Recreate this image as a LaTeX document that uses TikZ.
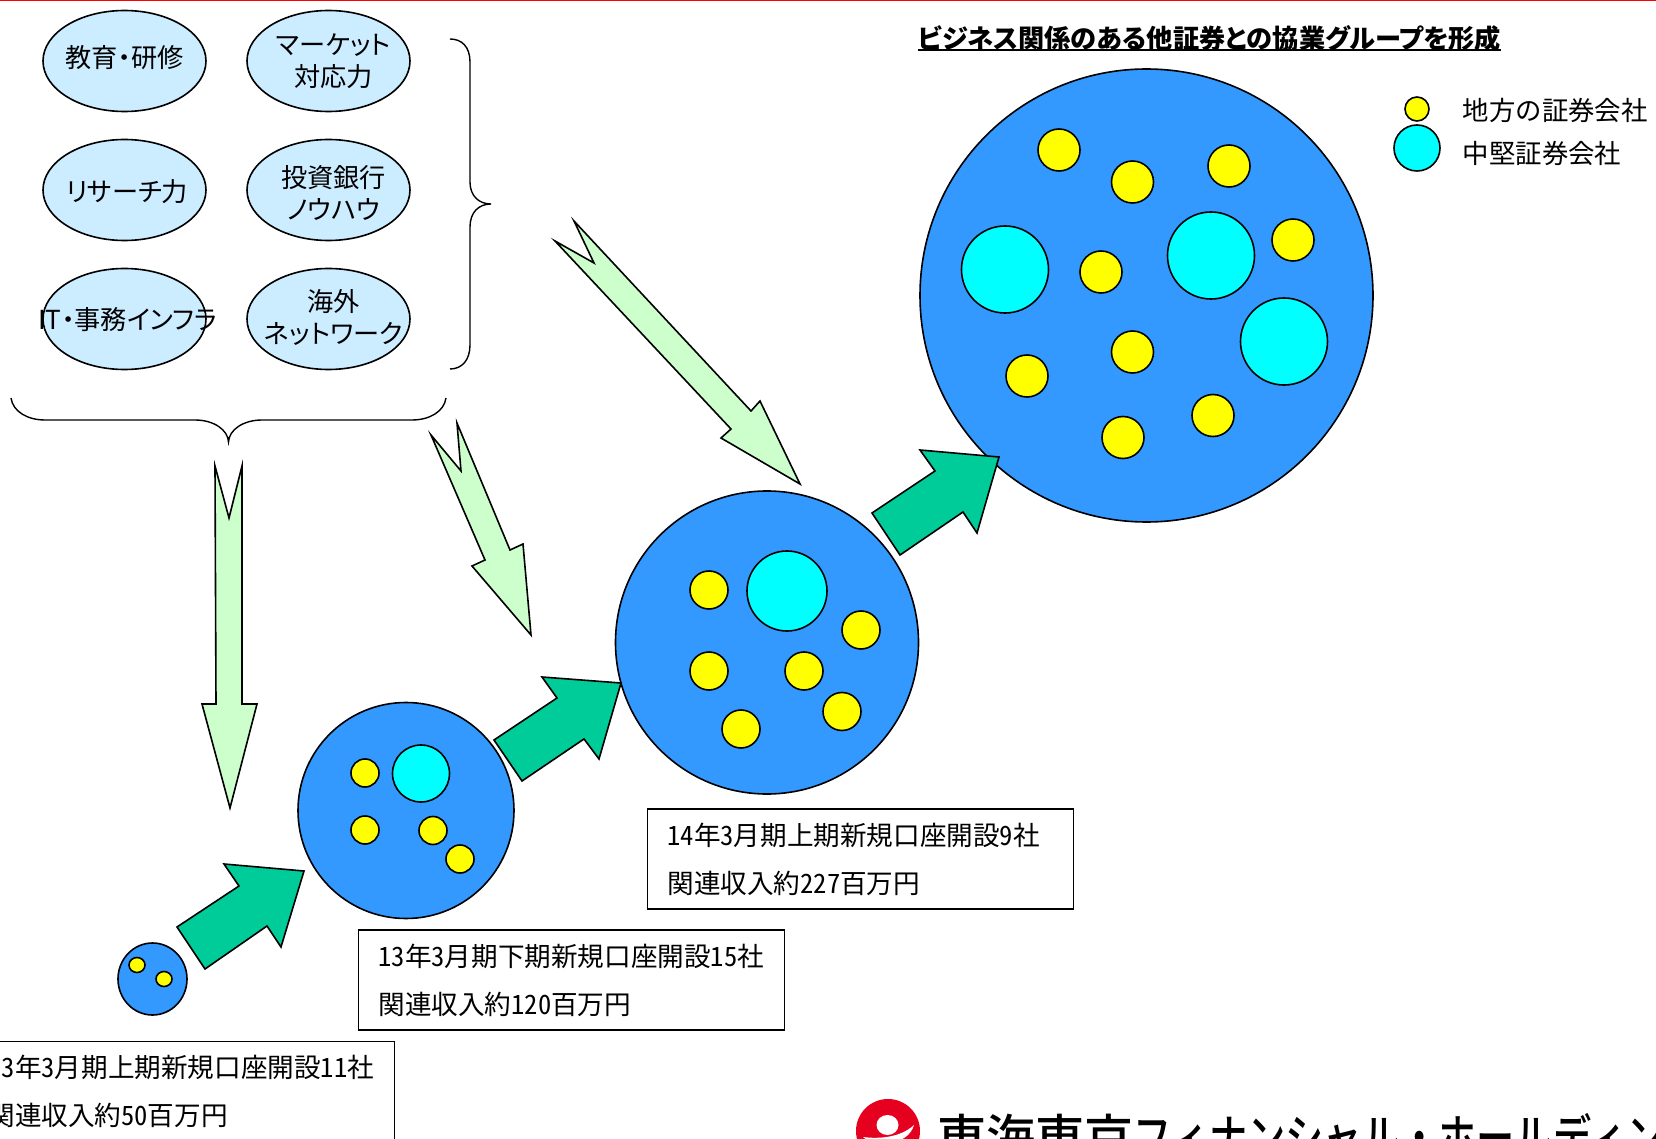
\documentclass[tikz,border=0pt]{standalone}
\usepackage{fontspec}
\usepackage{xcolor}
\usepackage{tikz}
\usetikzlibrary{matrix}
\usetikzlibrary{shapes.geometric}
\setmainfont[RawFeature=+palt]{Noto Sans CJK JP}
\newfontfamily\boxfont[RawFeature=+hwid]{Noto Sans CJK JP}
\newfontfamily\corpfont{Noto Sans CJK JP Medium}
\newfontfamily\corpkana[FakeStretch=0.78]{Noto Sans CJK JP Medium}
\definecolor{seablue}{HTML}{3399FF}
\definecolor{skillblue}{HTML}{CCECFF}
\definecolor{palegreen}{HTML}{CCFFCC}
\definecolor{growgreen}{HTML}{00CC99}
\definecolor{logored}{HTML}{E60020}
\definecolor{dotyellow}{HTML}{FFFF00}
\definecolor{dotcyan}{HTML}{00FFFF}
\newcommand{\skillname}[3]{\makebox[0pt]{\kern#1\kern#1\raisebox{\dimexpr-#2-3.25pt}[0pt][0pt]{\begin{tabular}{@{}c@{}}#3\end{tabular}}}}
\tikzset{
  skill/.style={ellipse,draw,line width=0.8pt,fill=skillblue,minimum width=81.5pt,minimum height=50.5pt,inner sep=0pt,font=\fontsize{13.1}{16}\selectfont},
  group/.style={circle,draw,line width=0.8pt,fill=seablue,inner sep=0pt},
  local/.style={circle,draw,line width=0.8pt,fill=dotyellow,inner sep=0pt},
  mid/.style={circle,draw,line width=0.8pt,fill=dotcyan,inner sep=0pt},
  infobox/.style={rectangle,draw,line width=0.9pt,inner xsep=10pt,inner ysep=0pt,text width=193pt,minimum height=50pt,align=left,font=\boxfont\fontsize{13.3}{24}\selectfont},
  legendtext/.style={anchor=west,inner sep=0pt,font=\boxfont\fontsize{13.2}{16}\selectfont},
  inflow/.style={draw,line width=0.8pt,fill=palegreen,miter limit=20},
  growth/.style={draw,line width=0.8pt,fill=growgreen},
  curly/.style={draw,line width=0.7pt}
}

\begin{document}
\begin{tikzpicture}[x=0.5pt,y=-0.5pt]
  \path[use as bounding box,clip] (0,0) rectangle (1656,1139);
  \fill[red] (0,0) rectangle (1656,1.4);

  \matrix (m) at (226.5,190) [matrix of nodes,nodes={skill},row sep=13.2pt,column sep=19.7pt,inner sep=0pt]
  {
     \skillname{0pt}{0pt}{教育・研修} & \skillname{2.6pt}{1.3pt}{マーケット\\対応力} \\
     \skillname{1.3pt}{2.1pt}{リサーチ力} & \skillname{2.6pt}{3.2pt}{投資銀行\\ノウハウ} \\
     \skillname{1.6pt}{1.6pt}{IT・事務インフラ} & \skillname{2.6pt}{1pt}{海外\\ネットワーク} \\};

  \path[curly] (450,39) .. controls (462,39) and (470,47) .. (470,62) -- (470,182)
    .. controls (470,196) and (479,204) .. (491,204) .. controls (479,204) and (470,212) .. (470,227)
    -- (470,345) .. controls (470,360) and (462,369) .. (450,369);
  \path[curly] (11,398) .. controls (13,412) and (28,420) .. (45,420) -- (195,420)
    .. controls (214,420) and (228,430) .. (228.5,442) .. controls (229,430) and (243,420) .. (262,420)
    -- (412,420) .. controls (429,420) and (444,412) .. (446,398);

  \node[group,minimum size=226.5pt] (big) at (1146.5,295.5) {};
  \node[local,minimum size=21pt] (b1) at (1059,150) {};
  \node[local,minimum size=21pt] (b2) at (1132.5,182) {};
  \node[local,minimum size=21pt] (b3) at (1229,166) {};
  \node[local,minimum size=21pt] (b4) at (1293,240) {};
  \node[local,minimum size=21pt] (b5) at (1101,272) {};
  \node[local,minimum size=21pt] (b6) at (1132.5,352) {};
  \node[local,minimum size=21pt] (b7) at (1027,376) {};
  \node[local,minimum size=21pt] (b8) at (1123,437.5) {};
  \node[local,minimum size=21pt] (b9) at (1213,415.5) {};
  \node[mid,minimum size=43.5pt] (c1) at (1005,269.5) {};
  \node[mid,minimum size=43.5pt] (c2) at (1211,255.5) {};
  \node[mid,minimum size=43.5pt] (c3) at (1284,341.5) {};

  \node[group,minimum size=151.5pt] (medium) at (767,642.5) {};
  \node[local,minimum size=19pt] (e1) at (709,590) {};
  \node[local,minimum size=19pt] (e2) at (861,630) {};
  \node[local,minimum size=19pt] (e3) at (709,671) {};
  \node[local,minimum size=19pt] (e4) at (804,671) {};
  \node[local,minimum size=19pt] (e5) at (842,711.5) {};
  \node[local,minimum size=19pt] (e6) at (741,729) {};
  \node[mid,minimum size=40pt] (c4) at (787,591) {};

  \node[group,minimum size=108pt] (small) at (406,810.5) {};
  \node[local,minimum size=14pt] (s1) at (365,773) {};
  \node[local,minimum size=14pt] (s2) at (365,830) {};
  \node[local,minimum size=14pt] (s3) at (433,830.5) {};
  \node[local,minimum size=14pt] (s4) at (460,859) {};
  \node[mid,minimum size=28.5pt] (c5) at (421,773.5) {};

  \node[group,minimum width=34.5pt,minimum height=36pt,ellipse] (tiny) at (152.5,979) {};
  \node[local,minimum width=8pt,minimum height=7.5pt,ellipse] (t1) at (137,965) {};
  \node[local,minimum width=8pt,minimum height=7.5pt,ellipse] (t2) at (164,979) {};

  \path[inflow] (215,466) -- (229,518) -- (242,466) -- (242,704) -- (257,704) -- (230,808) -- (202,704) -- (216,704) -- cycle;
  \path[inflow] (457,423) -- (510,550) -- (523,544) -- (531,635) -- (472,566) -- (485,560) -- (431,435) -- (461,471) -- cycle;
  \path[inflow] (574,221) -- (751,411) -- (760,401) -- (800,484) -- (721,438) -- (731,429) -- (555,241) -- (594,263) -- cycle;

  \path[growth] (177,927) -- (239,886) -- (224,864) -- (304,871) -- (281,947) -- (267,926) -- (205,969) -- cycle;
  \path[growth] (494,740) -- (557,698) -- (542,677) -- (621,683) -- (599,759) -- (584,739) -- (522,781) -- cycle;
  \path[growth] (872,513) -- (935,471) -- (920,450) -- (999,457) -- (977,533) -- (963,512) -- (900,555) -- cycle;

  \node[infobox,anchor=north west] (box1) at (-32.5,1040.5) {13年3月期上期新規口座開設11社\\関連収入約50百万円};
  \node[infobox,anchor=north west] (box2) at (357.5,929) {13年3月期下期新規口座開設15社\\関連収入約120百万円};
  \node[infobox,anchor=north west] (box3) at (646.5,808) {14年3月期上期新規口座開設9社\\関連収入約227百万円};

  \node[anchor=west,inner sep=0pt,font=\fontsize{13.1}{16}\selectfont\bfseries] (title) at (918,38) {ビジネス関係のある他証券との協業グループを形成};
  \draw[line width=0.8pt] (title.west |- 0,50) -- (1501,50);

  \node[local,minimum size=12pt] (lg1) at (1417,109) {};
  \node[mid,minimum size=23pt] (lg2) at (1417,148) {};
  \node[legendtext] (lt1) at (1462.5,110.5) {地方の証券会社};
  \node[legendtext] (lt2) at (1462.5,153.5) {中堅証券会社};

  \fill[logored] (888,1131) circle (16pt);
  \fill[white] (887.5,1125) ellipse (5.5pt and 5pt);
  \fill[white] (863,1137) .. controls (878,1139) and (900,1138) .. (914,1125) .. controls (908,1146) and (875,1148) .. (863,1137) -- cycle;
  \node[anchor=west,inner sep=0pt,font=\fontsize{24.5}{28}\selectfont] (corp) at (937,1137) {\corpfont 東海東京\corpkana フィナンシャル・ホールディングス};
\end{tikzpicture}
\end{document}
